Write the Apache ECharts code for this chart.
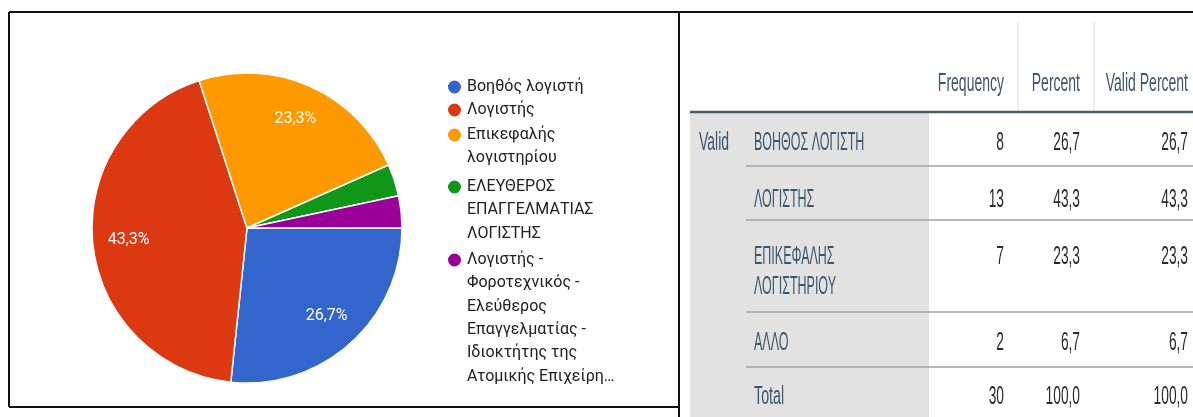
<!DOCTYPE html>
<html>
<head>
<meta charset="utf-8">
<script src="https://cdn.jsdelivr.net/npm/echarts@6/dist/echarts.min.js"></script>
<style>
html, body { margin: 0; padding: 0; background: #fff; }
#chart { width: 1193px; height: 417px; }
</style>
</head>
<body>
<div id="chart"></div>
<script>
// pie data (Google Forms style)
const pieNames = [
	"Βοηθός λογιστή",
	"Λογιστής",
	"Επικεφαλής λογιστηρίου",
	"ΕΛΕΥΘΕΡΟΣ ΕΠΑΓΓΕΛΜΑΤΙΑΣ ΛΟΓΙΣΤΗΣ",
	"Λογιστής - Φοροτεχνικός - Ελεύθερος Επαγγελματίας - Ιδιοκτήτης της Ατομικής Επιχείρη…",
]
const pieValues = [8, 13, 7, 1, 1]
const pieColors = ["#3366cc", "#dc3912", "#ff9900", "#109618", "#990099"]
// legend text, wrapped as in the picture
const legendLines = [
	["Βοηθός λογιστή"],
	["Λογιστής"],
	["Επικεφαλής", "λογιστηρίου"],
	["ΕΛΕΥΘΕΡΟΣ", "ΕΠΑΓΓΕΛΜΑΤΙΑΣ", "ΛΟΓΙΣΤΗΣ"],
	["Λογιστής -", "Φοροτεχνικός -", "Ελεύθερος", "Επαγγελματίας -", "Ιδιοκτήτης της", "Ατομικής Επιχείρη…"],
]

// SPSS frequency table
const tableHeaders = ["Frequency", "Percent", "Valid Percent"]
const tableGroup = "Valid"
const tableRows = ["ΒΟΗΘΟΣ ΛΟΓΙΣΤΗ", "ΛΟΓΙΣΤΗΣ", "ΕΠΙΚΕΦΑΛΗΣ\nΛΟΓΙΣΤΗΡΙΟΥ", "ΑΛΛΟ", "Total"]
const tableFrequency = [8, 13, 7, 2, 30]
const tablePercent = ["26,7", "43,3", "23,3", "6,7", "100,0"]
const tableValidPercent = ["26,7", "43,3", "23,3", "6,7", "100,0"]

const chart = echarts.init(document.getElementById("chart"))

const pieCenter = [247, 228]
const pieRadius = 155
const pieTotal = pieValues.reduce((a, b) => a + b, 0)
const legendLineHeight = 23.3
const legendFirstLineY = [87, 110, 135, 187, 260]

const pieData = pieNames.map((name, i) => ({
	name,
	value: pieValues[i],
	itemStyle: { color: pieColors[i] },
}))

// one legend per item; blank lines on top keep the dot on the first text line
const legends = pieNames.map((name, i) => {
	const n = legendLines[i].length
	return {
		orient: "vertical",
		left: 446,
		top: legendFirstLineY[i] - ((2 * n - 1) * legendLineHeight) / 2,
		padding: 0,
		itemWidth: 15,
		itemHeight: 15,
		icon: "circle",
		selectedMode: false,
		data: [name],
		formatter: () => Array(n - 1).fill(" ").concat(legendLines[i]).join("\n"),
		textStyle: {
			fontFamily: "Roboto",
			fontSize: 16,
			color: "#212121",
			lineHeight: legendLineHeight,
		},
	}
})

// table layout
const fontTable = '"Liberation Sans", Arial, sans-serif'
const headColor = "#3e566a"
const numColor = "#2a2a2a"
const headY = 84
const rowY = [143, 200, 257, 343, 397]
const rowLineH = 30
const sepY = [166, 220, 312, 367]
const colRight = [1004, 1080, 1188]
const headVLines = [1018, 1094]

const txt = (text, x, y, align, color, sx) => ({
	type: "text",
	x,
	y,
	scaleX: sx,
	z: 10,
	style: {
		text,
		fill: color,
		fontFamily: fontTable,
		fontSize: 25,
		lineHeight: rowLineH,
		align,
		verticalAlign: "middle",
	},
})
const line = (x1, y1, x2, y2, stroke, lineWidth, z = 5) => ({
	type: "line",
	z,
	shape: { x1, y1, x2, y2 },
	style: { stroke, lineWidth },
})

const graphics = []
// frames
graphics.push(line(9, 12, 1193, 12, "#111", 2, 20))
graphics.push(line(9, 12, 9, 407, "#111", 2, 20))
graphics.push(line(9, 407, 679, 407, "#111", 2, 20))
graphics.push(line(679, 12, 679, 417, "#111", 2, 20))
// grey label column
graphics.push({
	type: "rect",
	z: 1,
	shape: { x: 690, y: 113, width: 239, height: 304 },
	style: { fill: "#e2e2e2" },
})
headVLines.forEach(x => graphics.push(line(x, 22, x, 111, "#dcdcdc", 1)))
graphics.push(line(690, 112, 1193, 112, "#4b5b67", 2.5))
sepY.forEach(y => graphics.push(line(746, y, 1193, y, "#a3a3a3", 1.5)))
tableHeaders.forEach((h, i) => graphics.push(txt(h, colRight[i], headY, "right", headColor, 0.56)))
graphics.push(txt(tableGroup, 699, rowY[0], "left", headColor, 0.56))
tableRows.forEach((r, i) => {
	const lines = r.split("\n").length
	const yc = rowY[i] + ((lines - 1) * rowLineH) / 2
	graphics.push(txt(r, 754, yc, "left", headColor, r === "Total" ? 0.57 : 0.5))
	graphics.push(txt(String(tableFrequency[i]), colRight[0], rowY[i], "right", numColor, 0.55))
	graphics.push(txt(tablePercent[i], colRight[1], rowY[i], "right", numColor, 0.55))
	graphics.push(txt(tableValidPercent[i], colRight[2], rowY[i], "right", numColor, 0.55))
})

chart.setOption({
	backgroundColor: "#fff",
	animation: false,
	legend: legends,
	series: [
		{
			type: "pie",
			center: pieCenter,
			radius: [0, pieRadius],
			startAngle: 0,
			clockwise: true,
			data: pieData,
			label: { show: false },
			labelLine: { show: false },
			itemStyle: { borderColor: "#fff", borderWidth: 1.5 },
			emphasis: { disabled: true },
		},
		{
			// label ring, puts the % text at ~3/4 of the radius
			type: "pie",
			center: pieCenter,
			radius: [77, pieRadius],
			startAngle: 0,
			clockwise: true,
			silent: true,
			data: pieData.map(d => ({ name: d.name, value: d.value })),
			itemStyle: { color: "transparent", borderWidth: 0 },
			label: {
				show: true,
				position: "inside",
				fontFamily: "Roboto",
				fontSize: 16,
				color: "#fff",
				formatter: p => {
					const pct = (p.value / pieTotal) * 100
					return pct >= 5 ? pct.toFixed(1).replace(".", ",") + "%" : ""
				},
			},
			labelLine: { show: false },
			emphasis: { disabled: true },
		},
	],
	graphic: graphics,
})
</script>
</body>
</html>
